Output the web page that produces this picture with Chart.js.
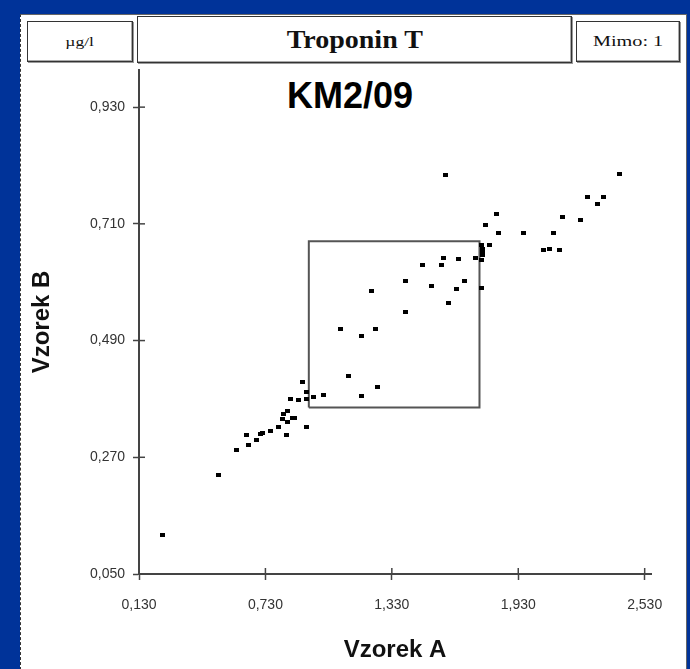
<!DOCTYPE html>
<html>
<head>
<meta charset="utf-8">
<script src="https://cdn.jsdelivr.net/npm/chart.js@4/dist/chart.umd.min.js"></script>
<style>
  html,body{margin:0;padding:0;}
  body{width:690px;height:669px;background:#003399;position:relative;overflow:hidden;font-family:"Liberation Sans",Arial,sans-serif;}
  #panel{position:absolute;left:20px;top:14px;width:665px;height:660px;background:#fff;border-left:1px dashed #333;border-top:1px solid #666;border-right:1px solid #666;}
  .hbox{position:absolute;background:#fff;border:1px solid #333;box-shadow:inset -1px -1px 0 #aaa, 1px 1px 0 #999;display:flex;align-items:center;justify-content:center;font-family:"Liberation Serif","Times New Roman",serif;color:#111;}
  .hbox span{display:inline-block;}
  #unit{left:27px;top:21px;width:104px;height:39px;font-size:13px;}
  #unit span{transform:scaleX(1.35);}
  #name{left:137px;top:16px;width:433px;height:45px;font-size:25px;font-weight:bold;}
  #name span{transform:scaleX(1.12);}
  #mimo{left:576px;top:21px;width:102px;height:39px;font-size:15px;}
  #mimo span{transform:scaleX(1.35);}
  #km{position:absolute;left:230px;top:76px;width:240px;text-align:center;font-family:"Liberation Sans",Arial,sans-serif;font-weight:bold;font-size:36px;line-height:40px;color:#000;}
  #c{position:absolute;left:0;top:0;}
</style>
</head>
<body>
<div id="panel"></div>
<div class="hbox" id="unit"><span>µg/l</span></div>
<div class="hbox" id="name"><span>Troponin T</span></div>
<div class="hbox" id="mimo"><span>Mimo: 1</span></div>
<div id="km">KM2/09</div>
<canvas id="c" width="690" height="669"></canvas>
<script>
// ---- data ----
const sampleA = [0.242,0.507,0.591,0.640,0.652,0.690,0.706,0.718,0.753,0.794,0.832,0.810,0.834,0.858,0.868,0.816,0.837,0.924,0.850,0.887,0.924,0.924,0.908,0.958,1.007,1.123,1.186,1.263,1.086,1.186,1.253,1.234,1.394,1.394,1.474,1.564,1.574,1.646,1.726,1.518,1.635,1.676,1.601,1.757,1.757,1.760,1.760,1.760,1.757,1.792,1.774,1.836,1.829,1.954,1.583,2.049,2.079,2.124,2.096,2.142,2.226,2.260,2.333,2.304,2.412];
const sampleB = [0.124,0.237,0.283,0.312,0.293,0.303,0.313,0.316,0.320,0.327,0.312,0.343,0.337,0.344,0.344,0.351,0.358,0.327,0.380,0.378,0.380,0.393,0.412,0.384,0.388,0.423,0.386,0.403,0.512,0.499,0.512,0.583,0.544,0.603,0.632,0.632,0.646,0.644,0.646,0.592,0.588,0.603,0.561,0.590,0.642,0.652,0.657,0.662,0.671,0.671,0.708,0.693,0.729,0.693,0.802,0.660,0.663,0.661,0.693,0.722,0.717,0.761,0.761,0.747,0.804];
const boxX = [0.936, 1.746];
const boxY = [0.364, 0.677];
const xTicks = [0.130, 0.730, 1.330, 1.930, 2.530];
const yTicks = [0.050, 0.270, 0.490, 0.710, 0.930];
const xRange = [0.130, 2.56];
const yRange = [0.050, 1.0];

const points = sampleA.map((a, i) => ({x: a, y: sampleB[i]}));
const boxPts = [
  {x: boxX[0], y: boxY[0]}, {x: boxX[1], y: boxY[0]},
  {x: boxX[1], y: boxY[1]}, {x: boxX[0], y: boxY[1]}, {x: boxX[0], y: boxY[0]}
];

// marker: small black rectangle
const mk = document.createElement('canvas');
mk.width = 5; mk.height = 4;
const mctx = mk.getContext('2d');
mctx.fillStyle = '#000'; mctx.fillRect(0, 0, 5, 4);

const fmt = v => v.toFixed(3).replace('.', ',');

// inner half of crossing tick marks
const crossTicks = {
  id: 'crossTicks',
  afterDraw(chart) {
    const {ctx, chartArea, scales} = chart;
    ctx.save();
    ctx.strokeStyle = '#444';
    ctx.lineWidth = 1.5;
    xTicks.forEach(v => {
      const px = scales.x.getPixelForValue(v);
      ctx.beginPath(); ctx.moveTo(px, chartArea.bottom); ctx.lineTo(px, chartArea.bottom - 6); ctx.stroke();
    });
    yTicks.forEach(v => {
      const py = scales.y.getPixelForValue(v);
      ctx.beginPath(); ctx.moveTo(chartArea.left, py); ctx.lineTo(chartArea.left + 6, py); ctx.stroke();
    });
    ctx.restore();
  }
};

new Chart(document.getElementById('c'), {
  type: 'scatter',
  data: {
    datasets: [
      {data: points, pointStyle: mk, pointRadius: 3, borderWidth: 0, backgroundColor: '#000'},
      {type: 'line', data: boxPts, showLine: true, pointRadius: 0, borderColor: '#555', borderWidth: 2, fill: false, tension: 0}
    ]
  },
  options: {
    responsive: false,
    animation: false,
    events: [],
    layout: {padding: {left: 20, top: 70, right: 39, bottom: 0}},
    plugins: {legend: {display: false}, tooltip: {enabled: false}},
    scales: {
      x: {
        type: 'linear', min: xRange[0], max: xRange[1],
        afterBuildTicks: s => { s.ticks = xTicks.map(v => ({value: v})); },
        afterFit: s => { s.height = 95; },
        ticks: {callback: v => fmt(v), color: '#333', font: {family: 'Liberation Sans', size: 14}, padding: 17, maxRotation: 0},
        grid: {drawOnChartArea: false, tickLength: 6, color: '#444', tickWidth: 1.5},
        border: {color: '#444', width: 2},
        title: {display: true, text: 'Vzorek A', color: '#111', font: {family: 'Liberation Sans', size: 24, weight: 'bold'}, padding: {bottom: 4, top: 0}}
      },
      y: {
        type: 'linear', min: yRange[0], max: yRange[1],
        afterBuildTicks: s => { s.ticks = yTicks.map(v => ({value: v})); },
        afterFit: s => { s.width = 119; },
        ticks: {callback: v => fmt(v), color: '#333', font: {family: 'Liberation Sans', size: 14}, padding: 8},
        grid: {drawOnChartArea: false, tickLength: 6, color: '#444', tickWidth: 1.5},
        border: {color: '#444', width: 2},
        title: {display: true, text: 'Vzorek B', color: '#111', font: {family: 'Liberation Sans', size: 24, weight: 'bold'}, padding: {top: 8, bottom: 0}}
      }
    }
  },
  plugins: [crossTicks]
});
</script>
</body>
</html>
